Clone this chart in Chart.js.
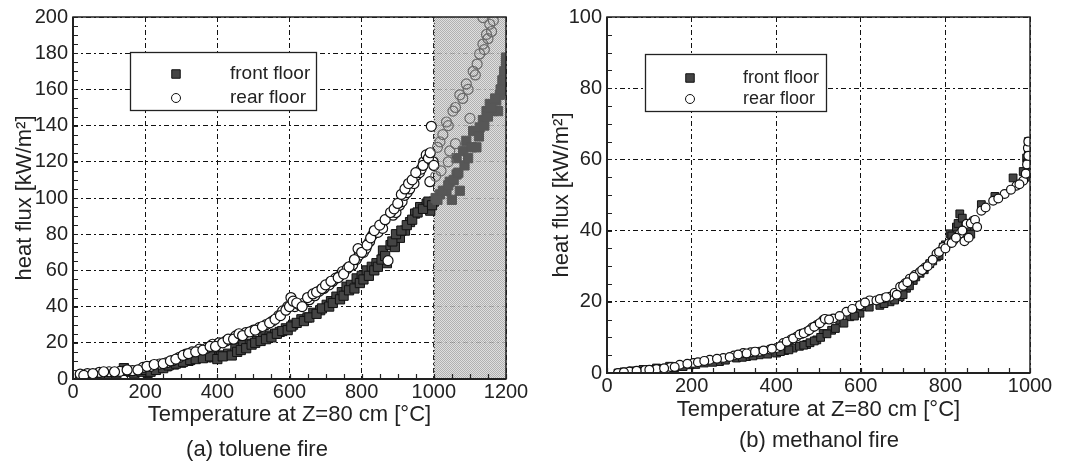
<!DOCTYPE html>
<html>
<head>
<meta charset="utf-8">
<script src="https://cdn.jsdelivr.net/npm/chart.js@4"></script>
<style>
  body { margin: 0; background: #fff; }
  #wrap { position: relative; width: 1067px; height: 463px; overflow: hidden; }
  .panel { position: absolute; top: 0; height: 463px; }
  .cap { position: absolute; font: 22px "Liberation Sans", Arial, sans-serif; color: #222; white-space: nowrap; transform: translateX(-50%); }
</style>
</head>
<body>
<div id="wrap">
  <div class="panel" style="left:0;width:530px"><canvas id="toluene" width="530" height="463"></canvas></div>
  <div class="panel" style="left:530px;width:537px"><canvas id="methanol" width="537" height="463"></canvas></div>
  <div class="cap" style="left:257px;top:436px">(a) toluene fire</div>
  <div class="cap" style="left:819px;top:427px">(b) methanol fire</div>
</div>
<script>
// (a) toluene fire - front floor
const tolFrontT = [20, 25, 35, 50, 70, 90, 110, 141, 160, 180, 207, 220, 240, 260, 280, 300, 320, 352, 370, 390, 410, 430, 450, 472, 490, 510, 527, 545, 560, 573, 590, 610, 633, 650, 666, 685, 703, 715, 730, 745, 758, 770, 786, 800, 814, 828, 841, 859, 870, 880, 892, 906, 920, 934, 948, 962, 980, 990, 1000, 1017, 1035, 1044, 1050, 1063, 1063, 1072, 1081, 1090, 1109, 1118, 1127, 1136, 1146, 1155, 1164, 1173, 1178, 1183, 1192, 1197, 1200, 1200, 1200,
  30, 45, 60, 80, 100, 120, 150, 170, 190, 200, 215, 230, 250, 265, 285, 305, 325, 340, 360, 380, 400, 415, 440, 455, 465, 480, 495, 505, 520, 535, 550, 565, 580, 595, 605, 620, 640, 655, 675, 690, 710, 720, 740, 750, 765, 780, 795, 805, 820, 835, 845, 855, 865, 885, 895, 910, 925, 940, 955, 970, 985, 995, 1005, 1010, 1025, 1040, 1055, 1068, 1085, 1095, 1105, 1125, 1140, 1150, 1160, 1170, 1185, 1190, 1195, 1200, 1200];
const tolFrontQ = [1.4, 0.5, 2, 2, 2.5, 3, 3.5, 6, 4, 4.5, 3.4, 5, 6, 7, 8, 9, 10, 13, 12, 12, 13, 14, 17, 18.9, 19.5, 21, 23, 24, 25, 26, 28, 30, 33, 34, 36.6, 38, 41, 43, 45.5, 48, 51, 52, 55.6, 57, 60, 62, 64, 71, 64, 74, 72.9, 78, 82, 86.7, 91.4, 95, 96.9, 93, 98, 102, 104, 109, 99, 113, 122, 104, 126, 131.6, 137, 128, 139, 143, 148, 152, 148, 153.8, 148, 157, 163, 166.6, 172, 177.6, 159,
  0.5, 1.5, 1, 2, 2, 3, 4.5, 3, 4, 5, 4, 5, 6, 7.5, 8.5, 9.5, 10.5, 11, 11.5, 12.5, 11, 12.5, 13, 15, 16, 17, 19, 20, 21, 22, 23, 25, 26.5, 27, 29, 31, 32, 34, 36, 39, 40, 42, 44, 46, 49, 50, 53, 55, 57, 60, 62, 66, 68, 76, 80, 82, 85, 88, 92, 94, 98, 96, 100, 99, 104, 107, 110, 114, 118, 122, 128, 134, 140, 145, 150, 155, 160, 165, 170, 175, 165];
// (a) toluene fire - rear floor
const tolRearT = [20, 40, 73, 100, 130, 165, 194, 215, 240, 260, 276, 295, 313, 330, 350, 370, 387, 405, 424, 440, 451, 465, 479, 500, 516, 535, 553, 570, 581, 595, 604, 615, 627, 640, 655, 670, 682, 695, 710, 720, 728, 740, 747, 760, 775, 785, 793, 805, 812, 822, 830, 845, 858, 873, 887, 895, 905, 912, 919, 926, 933, 945, 952, 960, 965, 972, 979, 989, 993, 998, 1017, 1035, 1044, 1053, 1072, 1090, 1100, 1109, 1127, 1136, 1146, 1155, 1136,
  30, 55, 85, 115, 150, 180, 205, 225, 250, 270, 285, 305, 320, 340, 360, 380, 395, 415, 430, 445, 460, 470, 490, 505, 525, 545, 560, 575, 590, 600, 610, 620, 635, 650, 665, 675, 690, 700, 715, 735, 750, 765, 780, 790, 800, 815, 825, 835, 850, 865, 880, 890, 900, 910, 920, 930, 940, 950, 970, 985, 990, 1000, 1005, 1010, 1025, 1040, 1060, 1080, 1095, 1115, 1120, 1140, 1150, 1160, 1165, 1020, 1040, 1060];
const tolRearQ = [2.7, 3, 3.7, 4, 4.2, 4.6, 6.4, 7, 8.3, 9, 10.1, 12, 13.7, 15, 16.5, 17, 19.2, 20, 21, 22, 23.8, 24, 25.6, 27, 28.4, 30, 32, 35, 37.6, 40, 45, 40, 41, 42, 43.8, 46, 48.4, 50, 52, 54, 55.7, 57, 59.4, 61, 63, 66, 68.5, 70, 72.2, 76, 79.5, 81, 83.2, 65.4, 90.5, 92, 96, 98, 101.5, 103, 105, 108, 112.6, 114, 116, 120, 123.8, 109, 139.6, 120, 131, 142, 126, 148, 157, 163, 144, 170, 179.6, 185, 190.4, 196, 199.7,
  2, 3, 4, 4, 5, 5, 7, 8, 8.5, 10, 11, 13, 14, 15, 16, 18, 18, 20, 22, 22, 25, 24, 26, 27, 29, 31, 33, 35, 38, 40, 43, 42, 40, 45, 47, 48, 50, 52, 54, 56, 58, 62, 66, 72, 70, 74, 78, 82, 85, 88, 92, 94, 97, 102, 105, 108, 110, 114, 118, 122, 125, 118, 112, 128, 135, 140, 150, 155, 160, 168, 174, 182, 188, 192, 198, 115, 120, 130];

// (b) methanol fire - front floor
const metFrontT = [26, 60, 85, 117, 148, 196, 230, 266, 306, 330, 360, 401, 420, 440, 472, 496, 511, 531, 550, 574, 598, 606, 645, 669, 693, 708, 724, 740, 763, 779, 795, 811, 826, 834, 858, 885, 917, 960, 984, 992, 996, 996, 996,
  40, 70, 100, 130, 160, 180, 210, 250, 280, 320, 345, 380, 410, 430, 455, 465, 480, 490, 505, 520, 540, 560, 585, 620, 655, 680, 700, 715, 730, 750, 770, 785, 800, 815, 830, 840, 850, 860, 990, 994, 998];
const metFrontQ = [0, 0.6, 1, 1.4, 1.9, 2.3, 2.8, 3.2, 4.2, 4.6, 5.1, 5.6, 6.3, 7, 8, 9.3, 11.1, 12, 14.9, 15.8, 16.8, 18.6, 19, 20, 21.4, 23.8, 26, 28, 30.7, 32.6, 35.4, 39.1, 41, 44.7, 41, 47.3, 49.6, 54.8, 56.6, 60.4, 65, 62.3, 57.6,
  0.3, 0.5, 1, 1.2, 1.5, 1.8, 2.4, 3, 3.6, 4.4, 4.8, 5.3, 6, 6.5, 7.5, 7.8, 8.5, 9, 10, 11, 12.5, 14, 16, 18.5, 19.5, 20.5, 22, 24.5, 27, 29, 31.5, 33, 36, 38.5, 42, 43.5, 40, 39, 55, 59, 63];
// (b) methanol fire - rear floor
const metRearT = [26, 53, 90, 117, 150, 172, 204, 243, 275, 300, 322, 340, 361, 385, 401, 417, 435, 448, 460, 472, 485, 496, 511, 535, 566, 598, 621, 637, 655, 669, 680, 693, 705, 716, 728, 740, 752, 763, 779, 795, 808, 819, 834, 850, 866, 885, 913, 940, 968, 984, 993, 995,
  40, 70, 100, 135, 160, 190, 215, 230, 260, 290, 310, 330, 350, 370, 390, 410, 425, 440, 455, 465, 478, 490, 503, 515, 525, 550, 580, 610, 645, 660, 685, 700, 710, 725, 745, 758, 770, 785, 800, 815, 825, 840, 845, 855, 860, 870, 875, 895, 925, 955, 975, 990, 996, 996];
const metRearQ = [0, 0.4, 0.8, 1.1, 1.7, 2.3, 2.8, 3.7, 4.2, 4.9, 5.6, 5.8, 6, 6.6, 7, 8.4, 9.4, 10.2, 11, 11.6, 12.8, 13.5, 14.9, 15.3, 17.2, 19, 20.4, 20.4, 21, 21.4, 22.5, 24.2, 25.2, 26.5, 27.5, 28.4, 29.6, 30.7, 33.5, 35.4, 36.4, 37.2, 39.1, 41.9, 42.8, 45.6, 48.4, 50.3, 52.6, 54, 58.6, 63.2,
  0.2, 0.6, 0.9, 1.3, 1.7, 2.6, 3, 3.4, 4, 4.5, 5.2, 5.5, 6, 6.3, 6.8, 7.5, 8.8, 9.7, 10.8, 11.2, 12, 13, 14, 15.2, 15, 16, 18, 19.8, 20.8, 21.3, 22, 24.5, 25.5, 27, 28.9, 30, 31.8, 34, 35, 36.5, 38, 40, 37, 38, 42, 43, 41, 46.5, 49, 51.5, 53, 56, 61, 65];

const font = '"Liberation Sans", Arial, sans-serif';
const textColor = '#222';
const gridDash = [5, 3, 2, 3];

const pts = (xs, ys) => xs.map((x, i) => ({ x: x, y: ys[i] }));

// gray stipple used for the shaded band
const stipple = (() => {
  const c = document.createElement('canvas');
  c.width = 2; c.height = 2;
  const g = c.getContext('2d');
  g.fillStyle = '#dadada'; g.fillRect(0, 0, 2, 2);
  g.fillStyle = '#a4a4a4'; g.fillRect(0, 0, 1, 1); g.fillRect(1, 1, 1, 1);
  return g.createPattern(c, 'repeat');
})();

const framePlugin = {
  id: 'frame',
  beforeDatasetsDraw(chart, args, opts) {
    const { ctx, chartArea: a, scales: { x, y } } = chart;
    ctx.save();
    if (opts.shadeFrom != null) {
      const x0 = x.getPixelForValue(opts.shadeFrom);
      const x1 = x.getPixelForValue(opts.shadeTo);
      ctx.globalAlpha = 0.85;
      ctx.fillStyle = stipple;
      ctx.fillRect(x0, a.top, x1 - x0, a.bottom - a.top);
      ctx.globalAlpha = 1;
      ctx.strokeStyle = '#333';
      ctx.setLineDash([1, 2]);
      ctx.beginPath();
      ctx.moveTo(x0 + 0.5, a.top);
      ctx.lineTo(x0 + 0.5, a.bottom);
      ctx.stroke();
      ctx.setLineDash([]);
    }
    // inside minor ticks on bottom and left axes
    ctx.strokeStyle = '#222';
    ctx.lineWidth = 1.2;
    ctx.beginPath();
    for (let v = x.min; v <= x.max + 1e-9; v += opts.xMinor) {
      const px = Math.round(x.getPixelForValue(v)) + 0.5;
      ctx.moveTo(px, a.bottom);
      ctx.lineTo(px, a.bottom - 5);
    }
    for (let v = y.min; v <= y.max + 1e-9; v += opts.yMinor) {
      const py = Math.round(y.getPixelForValue(v)) + 0.5;
      ctx.moveTo(a.left, py);
      ctx.lineTo(a.left + 5, py);
    }
    ctx.stroke();
    ctx.restore();
  },
  afterDraw(chart, args, opts) {
    const { ctx, chartArea: a } = chart;
    ctx.save();
    ctx.strokeStyle = '#222';
    ctx.lineWidth = 1.5;
    ctx.strokeRect(a.left, a.top, a.right - a.left, a.bottom - a.top);
    ctx.lineWidth = 2;
    ctx.beginPath();
    ctx.moveTo(a.left, a.top);
    ctx.lineTo(a.left, a.bottom);
    ctx.lineTo(a.right, a.bottom);
    ctx.stroke();

    // legend box inside the plot
    const L = opts.legend;
    const bx = a.left + L.dx, by = a.top + L.dy;
    ctx.fillStyle = '#fff';
    ctx.fillRect(bx, by, L.w, L.h);
    ctx.lineWidth = 1.3;
    ctx.strokeRect(bx + 0.5, by + 0.5, L.w, L.h);
    ctx.font = L.size + 'px ' + font;
    ctx.textBaseline = 'middle';
    ctx.textAlign = 'left';
    chart.data.datasets.slice().sort((p, q) => p.legendRow - q.legendRow).forEach((ds, i) => {
      const ry = by + L.rows[i];
      ctx.fillStyle = ds.legendFill;
      ctx.strokeStyle = '#111';
      ctx.lineWidth = 1;
      Chart.helpers.drawPoint(ctx, { pointStyle: ds.pointStyle, radius: ds.legendRadius, borderWidth: 1 }, bx + L.markX, ry);
      ctx.fillStyle = textColor;
      ctx.fillText(ds.label, bx + L.textX, ry);
    });
    ctx.restore();
  }
};

function makeChart(id, cfg) {
  const pad = cfg.pad;
  const inShade = c => c.raw && cfg.shadeFrom != null && c.raw.x > cfg.shadeFrom;
  return new Chart(document.getElementById(id), {
    type: 'scatter',
    data: {
      datasets: [
        {
          label: 'rear floor',
          legendRow: 1,
          data: pts(cfg.rearT, cfg.rearQ),
          pointStyle: cfg.rearStyle,
          pointRadius: cfg.rearRadius,
          legendRadius: 4.5,
          legendFill: '#fff',
          borderWidth: 1.2,
          pointBackgroundColor: c => inShade(c) ? 'rgba(0,0,0,0)' : '#fff',
          pointBorderColor: c => inShade(c) ? '#6a6a6a' : '#111',
          order: 0
        },
        {
          label: 'front floor',
          legendRow: 0,
          data: pts(cfg.frontT, cfg.frontQ),
          pointStyle: 'rect',
          pointRadius: cfg.frontRadius,
          legendRadius: 6,
          legendFill: '#444',
          borderWidth: 1,
          pointBackgroundColor: c => inShade(c) ? '#575757' : '#444',
          pointBorderColor: c => inShade(c) ? '#575757' : '#111',
          order: 1
        }
      ]
    },
    options: {
      responsive: false,
      animation: false,
      events: [],
      layout: { padding: { left: 0, top: pad.top, right: pad.right, bottom: 0 } },
      plugins: {
        legend: { display: false },
        tooltip: { enabled: false },
        frame: { shadeFrom: cfg.shadeFrom, shadeTo: cfg.xMax, xMinor: cfg.xMinor, yMinor: cfg.yMinor, legend: cfg.legend }
      },
      scales: {
        x: {
          type: 'linear',
          min: 0, max: cfg.xMax,
          afterFit: s => { s.height = 463 - cfg.plotBottom; },
          ticks: { stepSize: cfg.xStep, padding: 1, color: textColor, font: { family: font, size: 20 }, maxRotation: 0, callback: v => String(v) },
          grid: { color: '#111', lineWidth: 1, drawTicks: false },
          border: { display: false, dash: gridDash },
          title: { display: true, text: 'Temperature at Z=80 cm [°C]', color: textColor, font: { family: font, size: 22 }, padding: { top: 0, bottom: cfg.xTitlePad } }
        },
        y: {
          type: 'linear',
          min: 0, max: cfg.yMax,
          afterFit: s => { s.width = cfg.plotLeft; },
          ticks: { stepSize: cfg.yStep, padding: 5, color: textColor, font: { family: font, size: 20 }, callback: v => String(v) },
          grid: { color: '#111', lineWidth: 1, drawTicks: false },
          border: { display: false, dash: gridDash },
          title: { display: true, text: 'heat flux [kW/m²]', color: textColor, font: { family: font, size: 22 }, padding: { top: cfg.yTitlePad, bottom: 0 } }
        }
      }
    },
    plugins: [framePlugin]
  });
}

makeChart('toluene', {
  frontT: tolFrontT, frontQ: tolFrontQ, rearT: tolRearT, rearQ: tolRearQ,
  rearStyle: 'circle', rearRadius: 5, frontRadius: 6.5,
  xMax: 1200, xStep: 200, xMinor: 50, yMax: 200, yStep: 20, yMinor: 5,
  shadeFrom: 1000,
  plotLeft: 73, plotBottom: 379, pad: { top: 16, right: 24 },
  xTitlePad: 35, yTitlePad: 12,
  legend: { dx: 57, dy: 35, w: 186, h: 58, markX: 46, textX: 100, rows: [22, 46], size: 19 }
});

makeChart('methanol', {
  frontT: metFrontT, frontQ: metFrontQ, rearT: metRearT, rearQ: metRearQ,
  rearStyle: 'circle', rearRadius: 4.4, frontRadius: 5.5,
  xMax: 1000, xStep: 200, xMinor: 50, yMax: 100, yStep: 20, yMinor: 5,
  shadeFrom: null,
  plotLeft: 77, plotBottom: 373, pad: { top: 15, right: 37 },
  xTitlePad: 40, yTitlePad: 19,
  legend: { dx: 38, dy: 37, w: 181, h: 57, markX: 45, textX: 98, rows: [24, 45], size: 18 }
});
</script>
</body>
</html>
